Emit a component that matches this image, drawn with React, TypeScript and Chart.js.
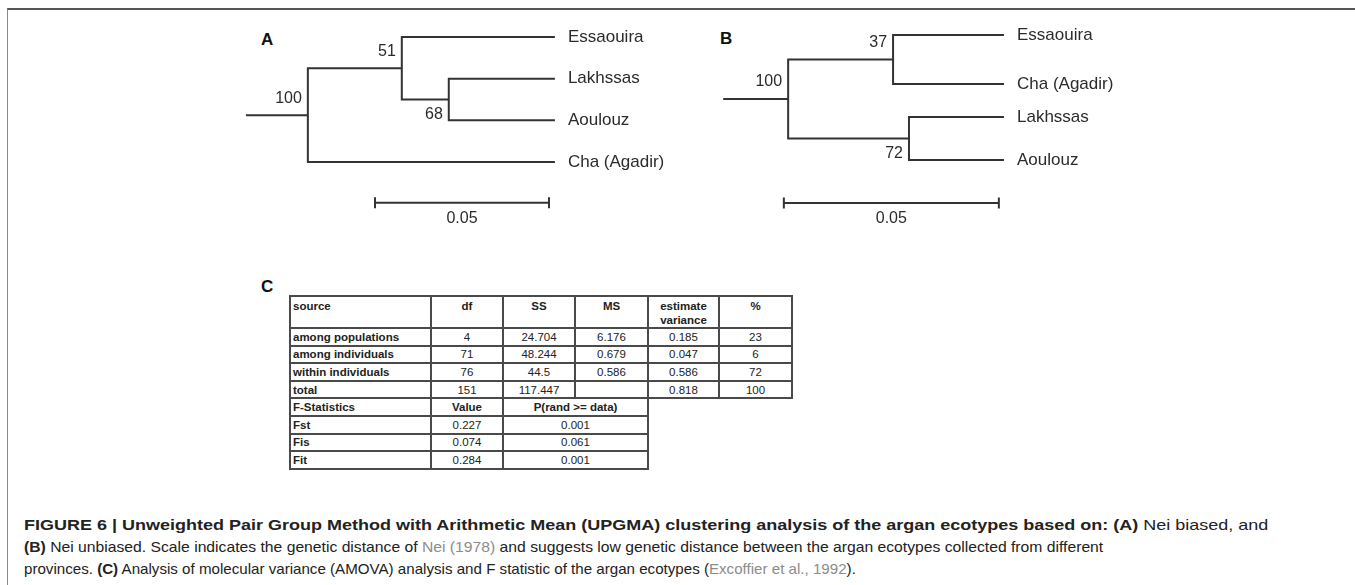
import React, { useEffect, useLayoutEffect, useRef } from "react";
import { Chart, registerables } from "chart.js";

Chart.register(...registerables);

// ---------- Tree A (Nei biased) ----------
const leavesA = ["Essaouira", "Lakhssas", "Aoulouz", "Cha (Agadir)"];
const leafPosA = [0, 1, 2, 3];
const mergesA = [[1, 2], [0, 4], [5, 3]];
const heightsA = [0.0305, 0.044, 0.071];
const bootA = [68, 51, 100];
const bootSideA = ["below", "above", "above"];
const rootStubA = 0.0178;
const scaleBarA = [0.0517, 0.0017];

// ---------- Tree B (Nei unbiased) ----------
const leavesB = ["Essaouira", "Cha (Agadir)", "Lakhssas", "Aoulouz"];
const leafPosB = [0, 1.176, 1.968, 3];
const mergesB = [[0, 1], [2, 3], [4, 5]];
const heightsB = [0.0258, 0.0221, 0.0502];
const bootB = [37, 72, 100];
const bootSideB = ["above", "below", "above"];
const rootStubB = 0.0151;
const scaleBarB = [0.0512, 0.0012];

const scaleLabel = "0.05";

// ---------- Table C (AMOVA) ----------
const amovaHeader = ["source", "df", "SS", "MS", "estimate variance", "%"];
const amovaSources = ["among populations", "among individuals", "within individuals", "total"];
const amovaDf = ["4", "71", "76", "151"];
const amovaSS = ["24.704", "48.244", "44.5", "117.447"];
const amovaMS = ["6.176", "0.679", "0.586", ""];
const amovaVar = ["0.185", "0.047", "0.586", "0.818"];
const amovaPct = ["23", "6", "72", "100"];
const fHeader = ["F-Statistics", "Value", "P(rand >= data)"];
const fNames = ["Fst", "Fis", "Fit"];
const fValues = ["0.227", "0.074", "0.284"];
const fP = ["0.001", "0.061", "0.001"];

// ---------- Caption ----------
type Seg = { t: string; k: "b" | "n" | "l" };
const captionLines: Seg[][] = [
  [
    { t: "FIGURE 6 | Unweighted Pair Group Method with Arithmetic Mean (UPGMA) clustering analysis of the argan ecotypes based on: (A)", k: "b" },
    { t: " Nei biased, and", k: "n" },
  ],
  [
    { t: "(B)", k: "b" },
    { t: " Nei unbiased. Scale indicates the genetic distance of ", k: "n" },
    { t: "Nei (1978)", k: "l" },
    { t: " and suggests low genetic distance between the argan ecotypes collected from different", k: "n" },
  ],
  [
    { t: "provinces. ", k: "n" },
    { t: "(C)", k: "b" },
    { t: " Analysis of molecular variance (AMOVA) analysis and F statistic of the argan ecotypes (", k: "n" },
    { t: "Excoffier et al., 1992", k: "l" },
    { t: ").", k: "n" },
  ],
];
const captionWidths = [1244, 1079, 832];

const LINE = "#333333";
const TEXT = "#2b2b2b";
const FONT = '"Liberation Sans", Arial, Helvetica, sans-serif';

function buildTree(leafPos: number[], merges: number[][], heights: number[], stub: number) {
  const h: number[] = leafPos.map(() => 0);
  const y: number[] = [...leafPos];
  const segs: { x: number; y: number }[][] = [];
  merges.forEach(([a, b], i) => {
    const hh = heights[i];
    segs.push([
      { x: h[a], y: y[a] },
      { x: hh, y: y[a] },
      { x: hh, y: y[b] },
      { x: h[b], y: y[b] },
    ]);
    h.push(hh);
    y.push((y[a] + y[b]) / 2);
  });
  const r = h.length - 1;
  segs.push([
    { x: h[r], y: y[r] },
    { x: h[r] + stub, y: y[r] },
  ]);
  return { segs, h, y };
}

type TreeProps = {
  leaves: string[];
  leafPos: number[];
  merges: number[][];
  heights: number[];
  boot: number[];
  bootSide: string[];
  stub: number;
  bar: number[];
  barY: number;
  xRange: number[];
  yRange: number[];
  left: number;
  top: number;
  width: number;
  height: number;
};

function TreeChart(p: TreeProps) {
  const ref = useRef<HTMLCanvasElement>(null);
  useEffect(() => {
    if (!ref.current) return;
    const t = buildTree(p.leafPos, p.merges, p.heights, p.stub);
    const common = {
      showLine: true,
      borderColor: LINE,
      borderWidth: 2,
      pointRadius: 0,
      pointHoverRadius: 0,
      fill: false,
      tension: 0,
      borderJoinStyle: "miter" as const,
      borderCapStyle: "butt" as const,
    };
    const tick = 0.132;
    const datasets: any[] = t.segs.map((seg) => ({ ...common, data: seg }));
    datasets.push({ ...common, data: [{ x: p.bar[0], y: p.barY }, { x: p.bar[1], y: p.barY }] });
    datasets.push({ ...common, data: [{ x: p.bar[0], y: p.barY - tick }, { x: p.bar[0], y: p.barY + tick }] });
    datasets.push({ ...common, data: [{ x: p.bar[1], y: p.barY - tick }, { x: p.bar[1], y: p.barY + tick }] });

    const textPlugin = {
      id: "treeText",
      afterDatasetsDraw(chart: any) {
        const { ctx, scales } = chart;
        const xs = scales.x;
        const ys = scales.y;
        ctx.save();
        ctx.fillStyle = TEXT;
        ctx.textBaseline = "middle";
        ctx.font = `17px ${FONT}`;
        ctx.textAlign = "left";
        p.leaves.forEach((l, i) => {
          ctx.fillText(l, xs.getPixelForValue(0) + 13, ys.getPixelForValue(t.y[i]));
        });
        ctx.font = `16px ${FONT}`;
        ctx.textAlign = "right";
        p.boot.forEach((b, i) => {
          const node = p.leaves.length + i;
          const px = xs.getPixelForValue(t.h[node]) - 6;
          const py = ys.getPixelForValue(t.y[node]) + (p.bootSide[i] === "above" ? -17 : 15);
          ctx.fillText(String(b), px, py);
        });
        ctx.textAlign = "center";
        ctx.fillText(
          scaleLabel,
          xs.getPixelForValue((p.bar[0] + p.bar[1]) / 2),
          ys.getPixelForValue(p.barY) + 16
        );
        ctx.restore();
      },
    };

    const chart = new Chart(ref.current, {
      type: "scatter",
      data: { datasets },
      options: {
        animation: false,
        responsive: false,
        maintainAspectRatio: false,
        events: [],
        layout: { padding: 0 },
        plugins: { legend: { display: false }, tooltip: { enabled: false } },
        scales: {
          x: { type: "linear", display: false, min: p.xRange[0], max: p.xRange[1], reverse: true },
          y: { type: "linear", display: false, min: p.yRange[0], max: p.yRange[1], reverse: true },
        },
      },
      plugins: [textPlugin],
    });
    return () => chart.destroy();
  }, []);
  return (
    <canvas
      ref={ref}
      width={p.width}
      height={p.height}
      style={{ position: "absolute", left: p.left, top: p.top, width: p.width, height: p.height }}
    />
  );
}

const BORDER = "2px solid #4a4a4a";
const cell: React.CSSProperties = {
  border: BORDER,
  padding: "0 3px",
  fontSize: 11.5,
  lineHeight: "14px",
  color: "#222",
  textAlign: "center",
  verticalAlign: "middle",
  whiteSpace: "nowrap",
  overflow: "hidden",
};
const nameCell: React.CSSProperties = { ...cell, textAlign: "left", fontWeight: "bold", padding: "0 2px" };
const headCell: React.CSSProperties = { ...cell, fontWeight: "bold", verticalAlign: "top", paddingTop: 2, whiteSpace: "normal" };
const rowH = 17.6;

function AmovaTable() {
  const colW = [141, 72, 72, 73, 71, 73];
  return (
    <table
      style={{
        position: "absolute",
        left: 289,
        top: 295,
        borderCollapse: "collapse",
        tableLayout: "fixed",
        width: colW.reduce((a, b) => a + b, 0),
        fontFamily: FONT,
      }}
    >
      <colgroup>
        {colW.map((w, i) => (
          <col key={i} style={{ width: w }} />
        ))}
      </colgroup>
      <tbody>
        <tr style={{ height: 31 }}>
          {amovaHeader.map((h, i) => (
            <td key={i} style={i === 0 ? { ...headCell, textAlign: "left", padding: "2px 2px 0" } : headCell}>
              {h}
            </td>
          ))}
        </tr>
        {amovaSources.map((s, i) => (
          <tr key={s} style={{ height: rowH }}>
            <td style={nameCell}>{s}</td>
            <td style={cell}>{amovaDf[i]}</td>
            <td style={cell}>{amovaSS[i]}</td>
            <td style={cell}>{amovaMS[i]}</td>
            <td style={cell}>{amovaVar[i]}</td>
            <td style={cell}>{amovaPct[i]}</td>
          </tr>
        ))}
        <tr style={{ height: rowH }}>
          <td style={nameCell}>{fHeader[0]}</td>
          <td style={{ ...cell, fontWeight: "bold" }}>{fHeader[1]}</td>
          <td style={{ ...cell, fontWeight: "bold" }} colSpan={2}>
            {fHeader[2]}
          </td>
          <td colSpan={2} style={{ border: "none" }} />
        </tr>
        {fNames.map((f, i) => (
          <tr key={f} style={{ height: rowH }}>
            <td style={nameCell}>{f}</td>
            <td style={cell}>{fValues[i]}</td>
            <td style={cell} colSpan={2}>
              {fP[i]}
            </td>
            <td colSpan={2} style={{ border: "none" }} />
          </tr>
        ))}
      </tbody>
    </table>
  );
}

function Caption() {
  const refs = useRef<(HTMLDivElement | null)[]>([]);
  useLayoutEffect(() => {
    refs.current.forEach((el, i) => {
      if (!el) return;
      el.style.transform = "none";
      const w = el.scrollWidth;
      if (w > 0) el.style.transform = `scaleX(${captionWidths[i] / w})`;
    });
  }, []);
  const tops = [514, 536, 558];
  return (
    <>
      {captionLines.map((line, i) => (
        <div
          key={i}
          ref={(el) => {
            refs.current[i] = el;
          }}
          style={{
            position: "absolute",
            left: 24,
            top: tops[i],
            fontFamily: FONT,
            fontSize: 15,
            lineHeight: "22px",
            whiteSpace: "nowrap",
            color: "#222",
            transformOrigin: "0 50%",
            display: "inline-block",
          }}
        >
          {line.map((s, j) => (
            <span
              key={j}
              style={{
                fontWeight: s.k === "b" ? "bold" : "normal",
                color: s.k === "l" ? "#8c8c8c" : "#222",
              }}
            >
              {s.t}
            </span>
          ))}
        </div>
      ))}
    </>
  );
}

const letter: React.CSSProperties = {
  position: "absolute",
  fontFamily: FONT,
  fontWeight: "bold",
  fontSize: 17,
  lineHeight: "20px",
  color: "#111",
};

export default function App() {
  useEffect(() => {
    document.body.style.margin = "0";
  }, []);
  return (
    <div style={{ position: "relative", width: 1355, height: 585, overflow: "hidden", background: "#fff" }}>
      <div
        style={{
          position: "absolute",
          left: 7,
          top: 8,
          width: 1360,
          height: 600,
          borderTop: "2px solid #555",
          borderLeft: "1px solid #8a8a8a",
        }}
      />
      <div style={{ ...letter, left: 261, top: 30 }}>A</div>
      <div style={{ ...letter, left: 720, top: 29 }}>B</div>
      <div style={{ ...letter, left: 261, top: 277 }}>C</div>
      <TreeChart
        leaves={leavesA}
        leafPos={leafPosA}
        merges={mergesA}
        heights={heightsA}
        boot={bootA}
        bootSide={bootSideA}
        stub={rootStubA}
        bar={scaleBarA}
        barY={3.98}
        xRange={[-0.0417, 0.0905]}
        yRange={[-0.528, 4.752]}
        left={240}
        top={15}
        width={460}
        height={220}
      />
      <TreeChart
        leaves={leavesB}
        leafPos={leafPosB}
        merges={mergesB}
        heights={heightsB}
        boot={bootB}
        bootSide={bootSideB}
        stub={rootStubB}
        bar={scaleBarB}
        barY={4.03}
        xRange={[-0.0293, 0.0707]}
        yRange={[-0.48, 4.8]}
        left={700}
        top={15}
        width={430}
        height={220}
      />
      <AmovaTable />
      <Caption />
    </div>
  );
}
